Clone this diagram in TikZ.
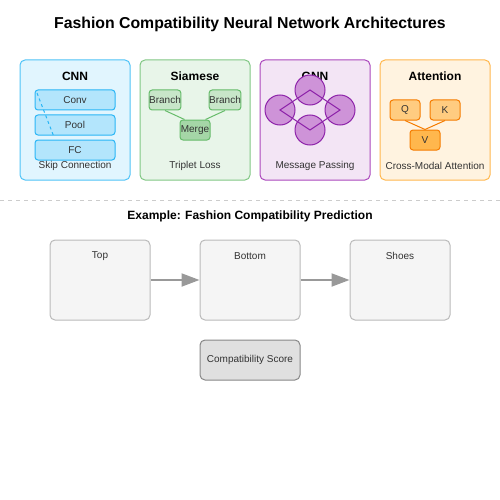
\documentclass[tikz,border=0pt]{standalone}
\usepackage{fontspec}
\setmainfont{Liberation Sans}
\usetikzlibrary{arrows.meta}

\definecolor{inktext}{HTML}{333333}
\definecolor{cnnfill}{HTML}{E1F5FE}
\definecolor{cnnline}{HTML}{4FC3F7}
\definecolor{cnnbox}{HTML}{B3E5FC}
\definecolor{cnnboxline}{HTML}{29B6F6}
\definecolor{siafill}{HTML}{E8F5E9}
\definecolor{sialine}{HTML}{81C784}
\definecolor{siabox}{HTML}{C8E6C9}
\definecolor{siamerge}{HTML}{A5D6A7}
\definecolor{siaboxline}{HTML}{66BB6A}
\definecolor{gnnfill}{HTML}{F3E5F5}
\definecolor{gnnline}{HTML}{AB47BC}
\definecolor{gnnnode}{HTML}{CE93D8}
\definecolor{gnnnodeline}{HTML}{8E24AA}
\definecolor{attfill}{HTML}{FFF3E0}
\definecolor{attline}{HTML}{FFB74D}
\definecolor{attbox}{HTML}{FFCC80}
\definecolor{attv}{HTML}{FFB74D}
\definecolor{attboxline}{HTML}{F57C00}

\begin{document}
\begin{tikzpicture}[x=1pt, y=-1pt,
    every node/.style={font=\fontsize{10}{12}\selectfont, text=inktext},
    panel/.style={draw, line width=1pt, rounded corners=5pt, minimum width=110pt, minimum height=120pt, inner sep=0pt},
    paneltitle/.style={font=\bfseries\fontsize{12}{14}\selectfont, text=black},
    smallbox/.style={draw, line width=1pt, rounded corners=3pt, inner sep=0pt},
    itembox/.style={draw=black!27, fill=black!4, line width=1pt, rounded corners=5pt, minimum width=100pt, minimum height=80pt, inner sep=0pt},
    flow/.style={draw=black!40, line width=2pt, -{Triangle[length=18pt, width=13pt]}}]
    \useasboundingbox (0,0) rectangle (500,500);

    \node [font=\bfseries\fontsize{15.8}{18}\selectfont, text=black] (title) at (250,24) {Fashion Compatibility Neural Network Architectures};

    % panels
    \node [panel, fill=cnnfill, draw=cnnline] (cnn) at (75,120) {};
    \node [panel, fill=siafill, draw=sialine] (siamese) at (195,120) {};
    \node [panel, fill=gnnfill, draw=gnnline] (gnn) at (315,120) {};
    \node [panel, fill=attfill, draw=attline] (attn) at (435,120) {};

    % CNN
    \node [paneltitle] (cnntitle) at (75,76) {CNN};
    \node [smallbox, fill=cnnbox, draw=cnnboxline, minimum width=80pt, minimum height=20pt] (conv) at (75,100) {Conv};
    \node [smallbox, fill=cnnbox, draw=cnnboxline, minimum width=80pt, minimum height=20pt] (pool) at (75,125) {Pool};
    \node [smallbox, fill=cnnbox, draw=cnnboxline, minimum width=80pt, minimum height=20pt] (fc) at (75,150) {FC};
    \coordinate (skipa) at (37,93);
    \coordinate (skipb) at (54,137);
    \draw [cnnboxline, line width=1pt, dash pattern=on 3pt off 3pt] (skipa) -- (skipb);
    \node (cnnlabel) at (75,166) {Skip Connection};

    % Siamese
    \node [paneltitle] (siatitle) at (195,76) {Siamese};
    \node [smallbox, fill=siabox, draw=siaboxline, minimum width=30pt, minimum height=20pt] (brl) at (165,100) {Branch};
    \node [smallbox, fill=siabox, draw=siaboxline, minimum width=30pt, minimum height=20pt] (brr) at (225,100) {Branch};
    \node [smallbox, fill=siamerge, draw=siaboxline, minimum width=30pt, minimum height=20pt] (merge) at (195,130) {Merge};
    \draw [siaboxline, line width=1pt] (brl.south) -- ([xshift=5pt]merge.north west);
    \draw [siaboxline, line width=1pt] (brr.south) -- ([xshift=-5pt]merge.north east);
    \node (sialabel) at (195,166) {Triplet Loss};

    % GNN
    \node [paneltitle] (gnntitle) at (315,76) {GNN};
    \foreach \n/\px/\py in {gt/310/90, gl/280/110, gr/340/110, gb/310/130}
        \node [circle, fill=gnnnode, draw=gnnnodeline, line width=1pt, minimum size=30pt, inner sep=0pt] (\n) at (\px,\py) {};
    \draw [gnnnodeline, line width=1pt] (gt.center) -- (gl.center) -- (gb.center) -- (gr.center) -- cycle;
    \node (gnnlabel) at (315,166) {Message Passing};

    % Attention
    \node [paneltitle] (atttitle) at (435,76) {Attention};
    \node [smallbox, fill=attbox, draw=attboxline, minimum width=30pt, minimum height=20pt] (q) at (405,110) {Q};
    \node [smallbox, fill=attbox, draw=attboxline, minimum width=30pt, minimum height=20pt] (k) at (445,110) {K};
    \node [smallbox, fill=attv, draw=attboxline, minimum width=30pt, minimum height=20pt] (v) at (425,140) {V};
    \draw [attboxline, line width=1pt] (q.south) -- (v.north);
    \draw [attboxline, line width=1pt] (k.south) -- (v.north);
    \node (attlabel) at (435,166) {Cross-Modal Attention};

    % separator
    \coordinate (sepl) at (0,200);
    \coordinate (sepr) at (500,200);
    \draw [black!20, line width=1pt, dash pattern=on 4pt off 4pt] (sepl) -- (sepr);

    % example
    \node [paneltitle] (extitle) at (250,216) {Example: Fashion Compatibility Prediction};
    \node [itembox] (top) at (100,280) {};
    \node [itembox] (bottom) at (250,280) {};
    \node [itembox] (shoes) at (400,280) {};
    \node (toplabel) at (100,256) {Top};
    \node (bottomlabel) at (250,256) {Bottom};
    \node (shoeslabel) at (400,256) {Shoes};
    \draw [flow] (top.east) -- (bottom.west);
    \draw [flow] (bottom.east) -- (shoes.west);
    \node [draw=black!47, fill=black!12, line width=1pt, rounded corners=5pt, minimum width=100pt, minimum height=40pt, inner sep=0pt] (score) at (250,360) {Compatibility Score};
\end{tikzpicture}
\end{document}
